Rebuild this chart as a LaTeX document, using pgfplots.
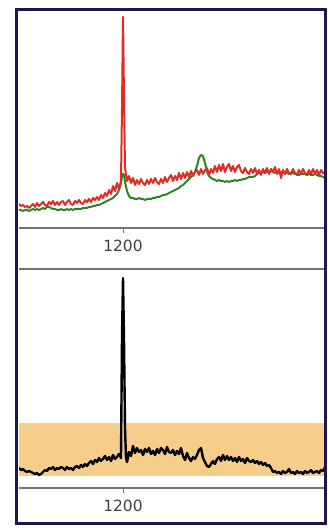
\documentclass[border=0pt]{standalone}
\usepackage{pgfplots}
\pgfplotsset{compat=1.18}
\usepackage{pgfplotstable}
\usepackage{fontspec}
\setmainfont{DejaVu Sans}
\definecolor{navyframe}{RGB}{31,22,80}
\definecolor{redline}{RGB}{228,42,34}
\definecolor{greenline}{RGB}{42,132,34}
\definecolor{bandfill}{RGB}{246,206,138}
\definecolor{spine}{RGB}{115,115,115}
\definecolor{ticklab}{RGB}{65,65,65}

\pgfplotstableread{
x y
992 24
996 22
1000 23
1004 21
1008 22
1012 20
1016 22
1020 24
1024 21
1028 25
1032 22
1036 24
1040 26
1044 23
1048 22
1052 26
1056 24
1060 27
1064 23
1068 26
1072 23
1076 26
1080 27
1084 23
1088 26
1092 28
1096 24
1100 23
1104 27
1108 25
1112 28
1116 25
1120 24
1124 28
1128 26
1132 29
1136 26
1140 30
1144 28
1148 31
1152 28
1156 33
1160 30
1164 35
1168 32
1172 38
1176 34
1180 42
1184 37
1188 45
1192 39
1196 47
1198 120
1200 211
1202 130
1204 60
1208 47
1212 52
1216 45
1220 50
1224 43
1228 48
1232 44
1236 49
1240 45
1244 43
1248 48
1252 44
1256 49
1260 45
1264 50
1268 46
1272 44
1276 49
1280 45
1284 51
1288 46
1292 50
1296 53
1300 47
1304 52
1308 48
1312 55
1316 49
1320 55
1324 50
1328 56
1332 51
1336 57
1340 52
1344 56
1348 58
1352 53
1356 59
1360 54
1364 58
1368 60
1372 53
1376 59
1380 55
1384 62
1388 56
1392 63
1396 57
1400 64
1404 56
1408 61
1412 64
1416 57
1420 62
1424 56
1428 61
1432 63
1436 57
1440 55
1444 60
1448 56
1452 54
1456 59
1460 55
1464 60
1468 54
1472 58
1476 53
1480 59
1484 55
1488 60
1492 54
1496 59
1500 56
1504 61
1508 54
1512 59
1516 50
1520 58
1524 54
1528 59
1532 55
1536 54
1540 59
1544 55
1548 53
1552 58
1556 54
1560 59
1564 55
1568 53
1572 58
1576 54
1580 59
1584 54
1588 58
1592 53
1596 58
1600 55
1604 54
}\redtable

\pgfplotstableread{
x y
992 18
996 18
1000 17
1004 18
1008 18
1012 17
1016 18
1020 19
1024 18
1028 19
1032 18
1036 19
1040 20
1044 19
1048 21
1052 21
1056 20
1060 19
1064 19
1068 18
1072 18
1076 19
1080 18
1084 18
1088 19
1092 18
1096 19
1100 18
1104 19
1108 19
1112 19
1116 19
1120 20
1124 20
1128 20
1132 21
1136 21
1140 22
1144 22
1148 23
1152 23
1156 24
1160 25
1164 26
1168 27
1172 28
1176 29
1180 30
1184 32
1188 34
1192 38
1196 45
1198 52
1200 54
1202 53
1204 46
1208 37
1212 32
1216 30
1220 30
1224 29
1228 29
1232 30
1236 29
1240 29
1244 28
1248 29
1252 29
1256 29
1260 30
1264 30
1268 31
1272 31
1276 32
1280 33
1284 33
1288 34
1292 35
1296 36
1300 37
1304 38
1308 39
1312 40
1316 42
1320 43
1324 45
1328 47
1332 49
1336 51
1340 53
1344 56
1348 62
1352 70
1356 73
1360 72
1364 65
1368 56
1372 52
1376 50
1380 49
1384 48
1388 47
1392 48
1396 47
1400 47
1404 46
1408 47
1412 46
1416 47
1420 47
1424 48
1428 47
1432 48
1436 48
1440 49
1444 49
1448 50
1452 51
1456 51
1460 51
1464 52
1468 54
1472 55
1476 56
1480 56
1484 55
1488 56
1492 56
1496 57
1500 56
1504 55
1508 56
1512 55
1516 56
1520 56
1524 55
1528 55
1532 54
1536 55
1540 55
1544 54
1548 54
1552 53
1556 54
1560 54
1564 54
1568 53
1572 54
1576 53
1580 53
1584 54
1588 53
1592 52
1596 52
1600 51
1604 50
}\greentable

\pgfplotstableread{
x y
992 20
996 18
1000 19
1004 17
1008 16
1012 17
1016 16
1020 15
1024 14
1028 15
1032 13
1036 14
1040 16
1044 18
1048 17
1052 20
1056 19
1060 21
1064 18
1068 20
1072 19
1076 21
1080 20
1084 18
1088 21
1092 19
1096 20
1100 18
1104 21
1108 22
1112 20
1116 23
1120 21
1124 24
1128 22
1132 25
1136 27
1140 24
1144 28
1148 26
1152 30
1156 27
1160 29
1164 32
1168 28
1172 31
1176 27
1180 33
1184 29
1188 31
1192 34
1196 30
1198 150
1200 210
1202 150
1204 60
1206 30
1208 26
1212 36
1216 32
1220 42
1224 35
1228 40
1232 36
1236 38
1240 33
1244 39
1248 36
1252 40
1256 34
1260 37
1264 33
1268 39
1272 35
1276 40
1280 38
1284 34
1288 41
1292 36
1296 35
1300 38
1304 33
1308 37
1312 34
1316 40
1320 32
1324 28
1328 35
1332 30
1336 27
1340 31
1344 29
1348 33
1352 38
1356 40
1360 30
1364 26
1368 22
1372 21
1376 24
1380 27
1384 24
1388 29
1392 31
1396 27
1400 33
1404 28
1408 32
1412 28
1416 31
1420 27
1424 30
1428 26
1432 31
1436 27
1440 29
1444 25
1448 30
1452 27
1456 26
1460 28
1464 25
1468 27
1472 24
1476 26
1480 23
1484 25
1488 22
1492 23
1496 20
1500 16
1504 17
1508 15
1512 16
1516 14
1520 17
1524 15
1528 16
1532 19
1536 15
1540 16
1544 14
1548 17
1552 15
1556 16
1560 14
1564 17
1568 15
1572 16
1576 18
1580 15
1584 16
1588 17
1592 15
1596 18
1600 17
1604 21
}\blacktable

\pgfplotsset{
  panel/.style={
    scale only axis,
    width=306bp,
    xmin=992, xmax=1604,
    ymin=0,
    axis x line*=bottom,
    axis y line=none,
    x axis line style={-, draw=spine, line width=1.1bp},
    xtick={1200},
    xticklabels={1200},
    tick align=outside,
    major tick length=5bp,
    every tick/.style={draw=spine, line width=1bp},
    xticklabel style={font=\fontsize{15.5}{18}\selectfont, text=ticklab, yshift=-4bp},
    /pgf/number format/assume math mode=true,
    clip=true,
  },
}

\begin{document}
\begin{tikzpicture}
\useasboundingbox (0,0) rectangle (328bp,531bp);
\fill[white] (0,0) rectangle (328bp,531bp);

% top panel
\begin{axis}[panel, at={(19bp,303bp)}, anchor=south west, height=220bp, ymax=220]
\addplot[greenline, line width=2bp, line join=round] table {\greentable};
\addplot[redline, line width=2bp, line join=round] table {\redtable};
\end{axis}

% bottom panel
\begin{axis}[panel, at={(19bp,43bp)}, anchor=south west, height=219bp, ymax=219]
\addplot[draw=none, fill=bandfill] coordinates {(992,12) (1604,12) (1604,65) (992,65)} -- cycle;
\addplot[black, line width=2.4bp, line join=round] table {\blacktable};
\draw[spine, line width=1.1bp] (rel axis cs:0,1) -- (rel axis cs:1,1);
\end{axis}

\draw[navyframe, line width=3.3bp] (16.5bp,7.5bp) rectangle (325.5bp,521.5bp);
\end{tikzpicture}
\end{document}
